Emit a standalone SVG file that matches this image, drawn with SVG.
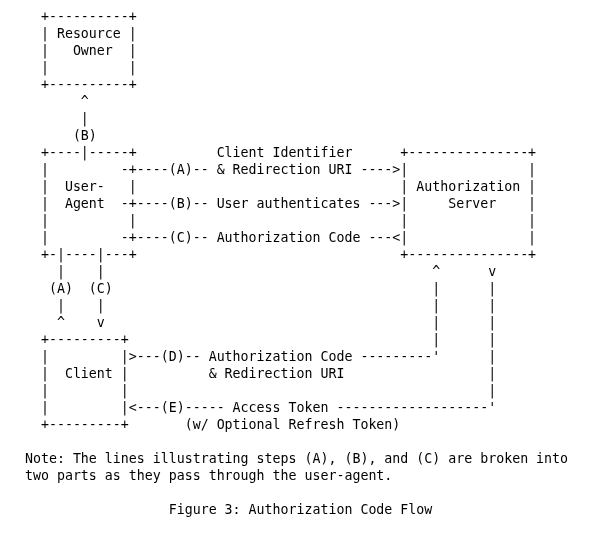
<svg xmlns="http://www.w3.org/2000/svg" width="589" height="545" viewBox="0 0 589 545">
<defs>
<filter id="gray" x="0" y="0" width="1" height="1" color-interpolation-filters="sRGB">
<feColorMatrix type="saturate" values="0"/>
</filter>
</defs>
<style>
text{font-family:"DejaVu Sans Mono","Liberation Mono",monospace;font-size:13.288px;fill:#000;white-space:pre}
</style>
<rect width="589" height="545" fill="#fff"/>
<g id="figure" xml:space="preserve" filter="url(#gray)">
<text x="1" y="21">     +----------+</text>
<text x="1" y="38">     | Resource |</text>
<text x="1" y="55">     |   Owner  |</text>
<text x="1" y="72">     |          |</text>
<text x="1" y="89">     +----------+</text>
<text x="1" y="106">          ^</text>
<text x="1" y="123">          |</text>
<text x="1" y="140">         (B)</text>
<text x="1" y="157">     +----|-----+          Client Identifier      +---------------+</text>
<text x="1" y="174">     |         -+----(A)-- &amp; Redirection URI ----&gt;|               |</text>
<text x="1" y="191">     |  User-   |                                 | Authorization |</text>
<text x="1" y="208">     |  Agent  -+----(B)-- User authenticates ---&gt;|     Server    |</text>
<text x="1" y="225">     |          |                                 |               |</text>
<text x="1" y="242">     |         -+----(C)-- Authorization Code ---&lt;|               |</text>
<text x="1" y="259">     +-|----|---+                                 +---------------+</text>
<text x="1" y="276">       |    |                                         ^      v</text>
<text x="1" y="293">      (A)  (C)                                        |      |</text>
<text x="1" y="310">       |    |                                         |      |</text>
<text x="1" y="327">       ^    v                                         |      |</text>
<text x="1" y="344">     +---------+                                      |      |</text>
<text x="1" y="361">     |         |&gt;---(D)-- Authorization Code ---------'      |</text>
<text x="1" y="378">     |  Client |          &amp; Redirection URI                  |</text>
<text x="1" y="395">     |         |                                             |</text>
<text x="1" y="412">     |         |&lt;---(E)----- Access Token -------------------'</text>
<text x="1" y="429">     +---------+       (w/ Optional Refresh Token)</text>
<text x="1" y="463">   Note: The lines illustrating steps (A), (B), and (C) are broken into</text>
<text x="1" y="480">   two parts as they pass through the user-agent.</text>
<text x="1" y="514">                     Figure 3: Authorization Code Flow</text>
</g>
</svg>
